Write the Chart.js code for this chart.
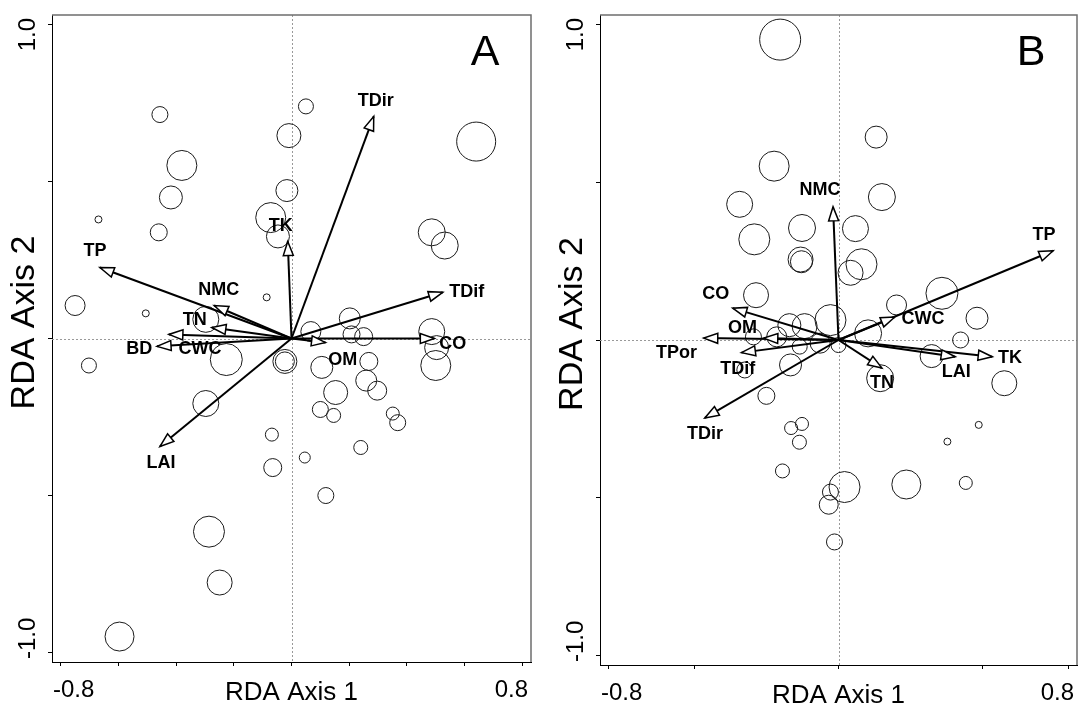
<!DOCTYPE html>
<html>
<head>
<meta charset="utf-8">
<script src="https://cdn.jsdelivr.net/npm/chart.js@4.4.0/dist/chart.umd.min.js"></script>
<style>
  body { margin: 0; background: #fff; width: 1078px; height: 708px; overflow: hidden; position: relative; }
  canvas { position: absolute; top: 0; }
</style>
</head>
<body>
<canvas id="chartA" width="540" height="708" style="left:0"></canvas>
<canvas id="chartB" width="538" height="708" style="left:540px"></canvas>
<script>
// Panel A - sites (RDA axis 1, axis 2, bubble size)
const sitesAx = [-0.456, 0.050, -0.009, 0.640, -0.380, -0.418, -0.016, -0.669, -0.072, -0.047, -0.460, 0.486, 0.531,
  -0.750, -0.086, -0.505, -0.297, 0.202, 0.486, 0.067, 0.250, 0.208, -0.702, -0.226, -0.023, -0.023, 0.105, 0.268,
  0.500, 0.503, 0.259, 0.153, 0.297, -0.297, 0.100, 0.146, 0.351, 0.368, -0.068, 0.240, 0.046, -0.065, 0.119,
  -0.286, -0.249, -0.596];
const sitesAy = [0.713, 0.739, 0.646, 0.627, 0.551, 0.449, 0.471, 0.379, 0.385, 0.325, 0.338, 0.338, 0.296,
  0.105, 0.131, 0.080, 0.061, 0.064, 0.022, 0.022, 0.006, 0.013, -0.086, -0.067, -0.073, -0.073, -0.092, -0.073,
  -0.086, -0.029, -0.134, -0.172, -0.166, -0.207, -0.226, -0.245, -0.239, -0.268, -0.306, -0.347, -0.379, -0.411, -0.500,
  -0.615, -0.777, -0.949];
const sitesAr = [8, 7.5, 12, 19.5, 15, 11.5, 11, 3.5, 15, 11.5, 8.5, 13.5, 13.5,
  10, 3.5, 3.5, 13, 10.5, 13, 10, 9, 8.5, 7.5, 16, 12, 9.5, 11, 9,
  15, 12, 10.5, 12, 9.5, 13, 8, 7, 6.5, 8, 6.5, 7, 5.5, 9, 8,
  15.5, 12.5, 14.5];

// Panel A - environmental variables
const varsA = ['TDir', 'TK', 'TP', 'NMC', 'TN', 'CWC', 'BD', 'TDif', 'CO', 'OM', 'LAI'];
const varsAx = [0.285, -0.013, -0.664, -0.268, -0.276, -0.425, -0.466, 0.524, 0.495, 0.118, -0.456];
const varsAy = [0.707, 0.309, 0.226, 0.105, 0.035, 0.013, -0.025, 0.147, 0.000, -0.013, -0.344];
const varLabelAx = [0.292, -0.037, -0.681, -0.252, -0.335, -0.317, -0.528, 0.607, 0.559, 0.178, -0.452];
const varLabelAy = [0.756, 0.357, 0.277, 0.153, 0.060, -0.035, -0.035, 0.147, -0.019, -0.067, -0.395];

// Panel B - sites
const sitesBx = [-0.203, 0.131, -0.224, -0.344, 0.151, -0.127, 0.059, -0.293, -0.132, -0.129, 0.080, 0.042,
  -0.287, 0.360, 0.202, 0.482, -0.028, 0.425, 0.103, -0.118, -0.171, -0.215, -0.296, 0.000, -0.064, -0.135,
  0.324, 0.145, -0.167, 0.577, -0.251, -0.165, -0.127, -0.136, 0.488, 0.379, -0.195, 0.021, -0.028, -0.034,
  0.236, 0.443, -0.014, -0.326];
const sitesBy = [0.952, 0.643, 0.551, 0.430, 0.453, 0.355, 0.353, 0.319, 0.255, 0.248, 0.240, 0.213,
  0.142, 0.148, 0.111, 0.069, 0.063, 0.000, 0.021, 0.044, 0.047, 0.010, 0.010, -0.016, -0.010, -0.021,
  -0.051, -0.121, -0.079, -0.137, -0.177, -0.279, -0.266, -0.324, -0.269, -0.322, -0.415, -0.466, -0.482, -0.522,
  -0.458, -0.453, -0.640, -0.095];
const sitesBr = [20.5, 11, 15, 13, 13.5, 13.5, 13, 15.5, 12.5, 11, 15.5, 12.5,
  12.5, 16, 10, 11, 15.5, 8, 13.5, 12.5, 11.5, 10, 8, 7.5, 10, 7.5,
  11.5, 13.5, 11, 12.5, 8.5, 6.5, 6.5, 7, 3.5, 3.5, 7, 15.5, 8, 9.5,
  14.5, 6.5, 8, 8];

// Panel B - environmental variables
const varsB = ['NMC', 'TP', 'CWC', 'CO', 'OM', 'TPor', 'TDif', 'TDir', 'TN', 'LAI', 'TK'];
const varsBx = [-0.019, 0.747, 0.196, -0.368, -0.260, -0.469, -0.338, -0.465, 0.151, 0.406, 0.535];
const varsBy = [0.422, 0.283, 0.073, 0.101, 0.006, 0.006, -0.040, -0.247, -0.089, -0.053, -0.053];
const varLabelBx = [-0.064, 0.715, 0.294, -0.427, -0.334, -0.564, -0.351, -0.465, 0.151, 0.410, 0.597];
const varLabelBy = [0.475, 0.332, 0.066, 0.146, 0.038, -0.041, -0.092, -0.297, -0.136, -0.101, -0.057];

// axes
const ticksAx = [-0.8, -0.6, -0.4, -0.2, 0, 0.2, 0.4, 0.6, 0.8];
const ticksBx = [-0.8, -0.5, 0, 0.5, 0.8];
const ticksY = [-1, -0.5, 0, 0.5, 1];
const xEndLabels = ['-0.8', '0.8'];
const yEndLabels = ['1.0', '-1.0'];

const FONT = '"Liberation Sans", Arial, sans-serif';

function arrowHead(ctx, x0, y0, x1, y1) {
  const a = Math.atan2(y1 - y0, x1 - x0);
  const len = 14, half = 5;
  const bx = x1 - len * Math.cos(a), by = y1 - len * Math.sin(a);
  ctx.beginPath();
  ctx.moveTo(x1, y1);
  ctx.lineTo(bx + half * Math.sin(a), by - half * Math.cos(a));
  ctx.lineTo(bx - half * Math.sin(a), by + half * Math.cos(a));
  ctx.closePath();
  ctx.fillStyle = '#fff';
  ctx.fill();
  ctx.stroke();
}

const decor = {
  id: 'decor',
  beforeDatasetsDraw(chart, args, p) {
    const { ctx, chartArea: ca, scales: { x, y } } = chart;
    ctx.save();
    ctx.strokeStyle = '#999';
    ctx.lineWidth = 1;
    ctx.setLineDash([2, 2]);
    const x0 = Math.round(x.getPixelForValue(0)) + 0.5;
    const y0 = Math.round(y.getPixelForValue(0)) + 0.5;
    ctx.beginPath();
    ctx.moveTo(x0, ca.top); ctx.lineTo(x0, ca.bottom);
    ctx.moveTo(ca.left, y0); ctx.lineTo(ca.right, y0);
    ctx.stroke();
    ctx.restore();
  },
  afterDatasetsDraw(chart, args, p) {
    const { ctx, scales: { x, y } } = chart;
    const ox = x.getPixelForValue(0), oy = y.getPixelForValue(0);
    ctx.save();
    ctx.strokeStyle = '#000';
    ctx.lineWidth = 1.5;
    p.names.forEach((n, i) => {
      arrowHead(ctx, ox, oy, x.getPixelForValue(p.vx[i]), y.getPixelForValue(p.vy[i]));
    });
    ctx.fillStyle = '#000';
    ctx.font = 'bold 18px ' + FONT;
    ctx.textAlign = 'center';
    ctx.textBaseline = 'middle';
    p.names.forEach((n, i) => {
      ctx.fillText(n, x.getPixelForValue(p.lx[i]), y.getPixelForValue(p.ly[i]));
    });
    ctx.restore();
  },
  afterDraw(chart, args, p) {
    const { ctx, chartArea: ca } = chart;
    ctx.save();
    // grey box on the top and right
    ctx.strokeStyle = '#6e6e6e';
    ctx.lineWidth = 1.5;
    ctx.beginPath();
    ctx.moveTo(ca.left, ca.top); ctx.lineTo(ca.right, ca.top); ctx.lineTo(ca.right, ca.bottom);
    ctx.stroke();

    ctx.fillStyle = '#000';
    // tick labels at the ends of the axes
    ctx.font = '24px ' + FONT;
    ctx.textBaseline = 'middle';
    ctx.textAlign = 'left';
    ctx.fillText(xEndLabels[0], ca.left + 1, ca.bottom + 28);
    ctx.textAlign = 'right';
    ctx.fillText(xEndLabels[1], ca.right - 3, ca.bottom + 28);
    ctx.save();
    ctx.translate(ca.left - 24, ca.top + 3);
    ctx.rotate(-Math.PI / 2);
    ctx.textAlign = 'right';
    ctx.fillText(yEndLabels[0], 0, 0);
    ctx.restore();
    ctx.save();
    ctx.translate(ca.left - 24, ca.bottom - 3);
    ctx.rotate(-Math.PI / 2);
    ctx.textAlign = 'left';
    ctx.fillText(yEndLabels[1], 0, 0);
    ctx.restore();

    // axis titles
    ctx.font = '26px ' + FONT;
    ctx.textAlign = 'center';
    ctx.fillText('RDA Axis 1', (ca.left + ca.right) / 2, ca.bottom + 31);
    ctx.save();
    ctx.font = '34px ' + FONT;
    ctx.translate(ca.left - 27, (ca.top + ca.bottom) / 2 - 16);
    ctx.rotate(-Math.PI / 2);
    ctx.fillText('RDA Axis 2', 0, 0);
    ctx.restore();

    // panel letter
    ctx.font = '43px ' + FONT;
    ctx.fillText(p.letter, ca.right - 46, ca.top + 38);
    ctx.restore();
  }
};

function buildChart(id, p) {
  const siteData = p.sx.map((v, i) => ({ x: v, y: p.sy[i], r: p.sr[i] }));
  const arrowSets = p.names.map((n, i) => ({
    type: 'line',
    label: n,
    data: [{ x: 0, y: 0 }, { x: p.vx[i], y: p.vy[i] }],
    borderColor: '#000',
    borderWidth: 2,
    pointRadius: 0,
    order: 0
  }));
  const axis = (vals) => ({
    type: 'linear',
    afterBuildTicks: (s) => { s.ticks = vals.map(v => ({ value: v })); },
    ticks: { display: false },
    grid: { drawOnChartArea: false, drawTicks: true, tickLength: 4, color: '#000', lineWidth: 1 },
    border: { display: true, color: '#000', width: 1 }
  });
  return new Chart(document.getElementById(id).getContext('2d'), {
    type: 'bubble',
    data: {
      datasets: [...arrowSets, {
        label: 'sites',
        data: siteData,
        backgroundColor: 'rgba(0,0,0,0)',
        borderColor: '#1a1a1a',
        borderWidth: 1,
        order: 1
      }]
    },
    options: {
      responsive: false,
      animation: false,
      events: [],
      layout: { padding: p.padding, autoPadding: false },
      plugins: { legend: { display: false }, tooltip: { enabled: false }, decor: p },
      scales: {
        x: Object.assign(axis(p.xticks), { min: -0.83, max: 0.83 }),
        y: Object.assign(axis(ticksY), { min: -1.03, max: 1.03 })
      }
    },
    plugins: [decor]
  });
}

buildChart('chartA', {
  letter: 'A',
  sx: sitesAx, sy: sitesAy, sr: sitesAr,
  names: varsA, vx: varsAx, vy: varsAy, lx: varLabelAx, ly: varLabelAy,
  xticks: ticksAx,
  padding: { left: 48, top: 15, right: 9, bottom: 42 }
});

buildChart('chartB', {
  letter: 'B',
  sx: sitesBx, sy: sitesBy, sr: sitesBr,
  names: varsB, vx: varsBx, vy: varsBy, lx: varLabelBx, ly: varLabelBy,
  xticks: ticksBx,
  padding: { left: 56, top: 15, right: 1, bottom: 39 }
});
</script>
</body>
</html>
